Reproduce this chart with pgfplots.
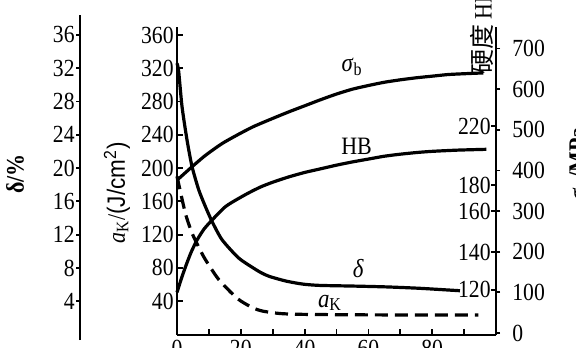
\documentclass[border=0pt]{standalone}
\usepackage{fontspec}
\setmainfont{Liberation Serif}[FakeStretch=0.88]
\setsansfont{Liberation Sans}[FakeStretch=0.9]
\newfontfamily\cjk{Noto Sans CJK SC}
\usepackage{pgfplots}
\pgfplotsset{compat=1.18}

% a_K (J/cm^2)
\pgfplotstableread{
x y
0 190
2.6 146
4.7 122
6.8 105
8.9 90
13.1 66
19 43
23.8 32
27 28
32.3 25.2
39.5 24.2
60 23.6
94.5 23.4
}\aKdata
% delta (%)
\pgfplotstableread{
x y
0 32.6
0.53 31.6
1.57 27.4
3.13 23.4
4.7 20.2
6.8 17.4
8.87 15.4
10.97 13.6
14.1 11.4
19.3 9.2
23.9 8.0
26.5 7.4
29.2 6.95
34.4 6.4
39.6 6.05
44.8 5.9
55.3 5.82
65.7 5.72
76.2 5.55
88.7 5.26
}\deltadata
% sigma_b (MPa)
\pgfplotstableread{
x y
0 376
4.7 409
8.9 437
14.1 466
19.3 489
24 508
30 528
35 544
40 559
45 574
50 588
55 600
60 609
65 617
70 623
75 628
80 632
85 636
90 638
96 640
}\sigmadata
% HB (drawn on the sigma_b scale, as in the figure)
\pgfplotstableread{
x y
0 100
1.5 137
3 170
4.5 200
6.3 229
8.5 256
11 278
15.2 311
19.3 331
23 347
26.4 360
30 371
35 384
40 395
45 404
50 413
55 421
60 428
65 435
70 440
75 444
80 447
88 450
97 452
}\HBdata

\pgfplotsset{
  base/.style={
    scale only axis, width=159.5pt, height=153.75pt,
    at={(88.5pt,6.25pt)}, anchor=south west,
    xmin=0, xmax=100, clip=false,
    /pgf/number format/assume math mode=true,
    tick label style={font=\fontsize{12.3}{14}\selectfont},
    axis line style={line width=1pt},
    every tick/.style={line width=0.9pt, black},
  },
  curve/.style={line width=1.6pt, black, smooth, tension=0.4},
}

\begin{document}
\begin{tikzpicture}
% main axis: a_K scale and x axis
\begin{axis}[base,
  ymin=0, ymax=369.6,
  axis x line*=bottom, axis y line*=left,
  tick align=inside, major tick length=3pt,
  ytick={40,80,...,360},
  xtick={0,10,...,90},
  xticklabels={0,,20,,40,,60,,80,},
  yticklabel style={inner sep=1.5pt},
  xticklabel style={inner sep=0pt, yshift=-2.75pt},
]
\addplot[curve, dash pattern=on 6.5pt off 3.5pt] table {\aKdata};
\end{axis}

% delta curve (same frame)
\begin{axis}[base, hide axis, ymin=0, ymax=36.96]
\addplot[curve] table {\deltadata};
\end{axis}

% delta scale on the far left
\begin{axis}[scale only axis, width=1pt, height=162.5pt,
  at={(40pt,3.5pt)}, anchor=south west,
  xmin=0, xmax=1, ymin=-0.66, ymax=38.4,
  axis x line=none, axis y line*=left,
  /pgf/number format/assume math mode=true,
  tick label style={font=\fontsize{12.3}{14}\selectfont},
  axis line style={line width=1pt},
  every tick/.style={line width=0.9pt, black},
  tick align=outside, major tick length=2pt,
  ytick={4,8,...,36},
  yticklabel style={inner sep=0.5pt},
]
\end{axis}

% sigma_b scale on the right, with sigma_b and HB curves
\begin{axis}[base,
  ymin=-3.7, ymax=753,
  axis x line=none, axis y line*=right,
  tick align=outside, major tick length=2pt,
  ytick={0,100,...,700},
  yticklabel style={inner sep=0pt, xshift=6pt},
]
\addplot[curve] table {\sigmadata};
\addplot[curve] table {\HBdata};
\end{axis}

% HB scale, labels inside the right spine
\begin{axis}[base,
  ymin=-3.7, ymax=753,
  axis x line=none, axis y line*=right,
  tick align=inside, major tick length=2.5pt,
  ytick={106,199,300,364,509},
  yticklabels={120,140,160,180,220},
  yticklabel style={anchor=east, inner sep=0pt, xshift=-2.5pt},
]
\end{axis}

% axis titles
\node[rotate=90, font=\bfseries\fontsize{12.5}{14}\selectfont] at (7.5pt,86.5pt) {δ/\%};
\node[rotate=90, font=\fontsize{12.5}{14}\selectfont] at (58.5pt,77pt)
  {\textit{a}\textsubscript{K}/{\sffamily(J/cm\textsuperscript{2})}};
\node[rotate=90, anchor=west, inner sep=0pt, font=\fontsize{12.5}{14}\selectfont] at (241pt,136pt)
  {{\cjk 硬度} HB};
\node[rotate=90, anchor=north east, inner sep=0pt, font=\bfseries\fontsize{12.5}{14}\selectfont] at (284.5pt,110pt)
  {\textit{σ}\textsubscript{b}/MPa};

% curve labels
\node[font=\fontsize{13}{15}\selectfont] at (176pt,140pt) {\textit{σ}\textsubscript{b}};
\node[font=\fontsize{12.5}{15}\selectfont] at (178.3pt,100.2pt) {HB};
\node[font=\fontsize{13}{15}\selectfont] at (179.2pt,39.4pt) {\textit{δ}};
\node[font=\fontsize{13}{15}\selectfont] at (165pt,22pt) {\textit{a}\textsubscript{K}};

\pgfresetboundingbox
\useasboundingbox (0pt,0pt) rectangle (288pt,173.5pt);
\end{tikzpicture}
\end{document}
